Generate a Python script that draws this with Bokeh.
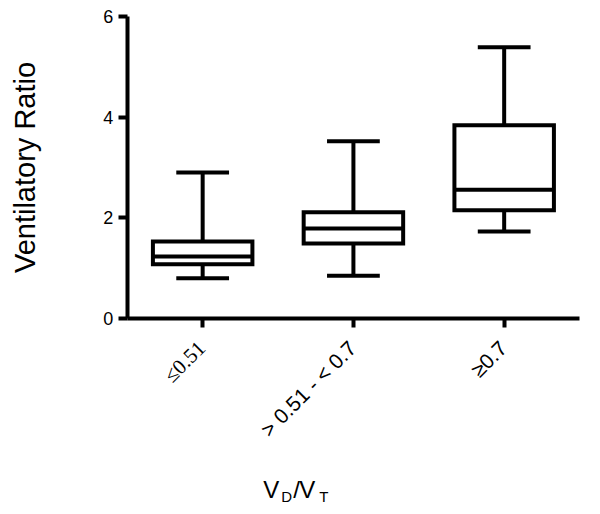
import math
from bokeh.plotting import figure
from bokeh.models import FixedTicker, Label, Range1d
from bokeh.embed import file_html
from bokeh.resources import INLINE

categories = ["≤0.51", "> 0.51 - < 0.7", "≥0.7"]
category_fonts = ["Liberation Serif", "Liberation Sans", "Liberation Sans"]
positions = [1, 2, 3]
whisker_low = [0.80, 0.85, 1.73]
q1 = [1.08, 1.49, 2.15]
median = [1.23, 1.79, 2.56]
q3 = [1.53, 2.11, 3.84]
whisker_high = [2.90, 3.52, 5.39]
y_ticks = [0, 2, 4, 6]

BOX_W = 0.66
CAP_W = 0.35
FONT = "Liberation Sans"
# the frame covers the whole canvas; axes are drawn at fixed locations
X_RANGE = (-0.341, 3.639)
Y_RANGE = (-3.894, 6.318)

p = figure(width=600, height=514, output_backend="svg", toolbar_location=None,
           x_range=Range1d(*X_RANGE), y_range=Range1d(*Y_RANGE),
           min_border_left=0, min_border_right=0, min_border_top=0,
           min_border_bottom=0)
p.outline_line_color = None
p.grid.visible = False
p.background_fill_color = "white"
p.border_fill_color = "white"

# whiskers
p.segment(x0=positions, x1=positions, y0=q3, y1=whisker_high, line_color="black", line_width=4)
p.segment(x0=positions, x1=positions, y0=whisker_low, y1=q1, line_color="black", line_width=4)
# caps
p.segment(x0=[x - CAP_W / 2 for x in positions], x1=[x + CAP_W / 2 for x in positions],
          y0=whisker_high, y1=whisker_high, line_color="black", line_width=4)
p.segment(x0=[x - CAP_W / 2 for x in positions], x1=[x + CAP_W / 2 for x in positions],
          y0=whisker_low, y1=whisker_low, line_color="black", line_width=4)
# boxes
p.vbar(x=positions, width=BOX_W, bottom=q1, top=q3, fill_color="white",
       line_color="black", line_width=4, line_join="miter")
# medians
p.segment(x0=[x - BOX_W / 2 for x in positions], x1=[x + BOX_W / 2 for x in positions],
          y0=median, y1=median, line_color="black", line_width=4)

for ax in (p.xaxis[0], p.yaxis[0]):
    ax.axis_line_width = 4
    ax.major_tick_line_width = 4
    ax.major_tick_out = 9
    ax.major_tick_in = 0
    ax.minor_tick_line_color = None
    ax.major_label_text_font = FONT
    ax.major_label_text_color = "black"

p.xaxis.fixed_location = 0
p.xaxis.bounds = (0.5, 3.5)
p.xaxis.ticker = FixedTicker(ticks=positions)
p.xaxis.major_label_overrides = {pos: "" for pos in positions}

p.yaxis.fixed_location = 0.5
p.yaxis.bounds = (0, 6)
p.yaxis.ticker = FixedTicker(ticks=y_ticks)
p.yaxis.major_label_text_font_size = "18px"
p.yaxis.major_label_standoff = 5

# y axis title
p.add_layout(Label(x=0.5, y=3, x_offset=-102, y_offset=0, text="Ventilatory Ratio",
                   angle=math.pi / 2, text_font=FONT, text_font_size="29px",
                   text_align="center", text_baseline="middle", text_color="black"))

# rotated category labels under the ticks
for pos, lab, fnt in zip(positions, categories, category_fonts):
    p.add_layout(Label(x=pos, y=0, x_offset=-1, y_offset=-26, text=lab, angle=math.pi / 4,
                       text_font=fnt, text_font_size="21px", text_align="right",
                       text_baseline="middle", text_color="black"))

# x axis title: V_D / V_T built from pieces
pieces = [("V", 136, -171, "24px"), ("D", 154, -178, "15px"), ("/", 166, -171, "24px"),
          ("V", 172, -171, "24px"), ("T", 192, -178, "15px")]
for txt, dx, dy, fs in pieces:
    p.add_layout(Label(x=0.5, y=0, x_offset=dx, y_offset=dy, text=txt,
                       text_font=FONT, text_font_size=fs, text_baseline="alphabetic",
                       text_align="left", text_color="black"))

open("out.html", "w").write(file_html(p, INLINE))
